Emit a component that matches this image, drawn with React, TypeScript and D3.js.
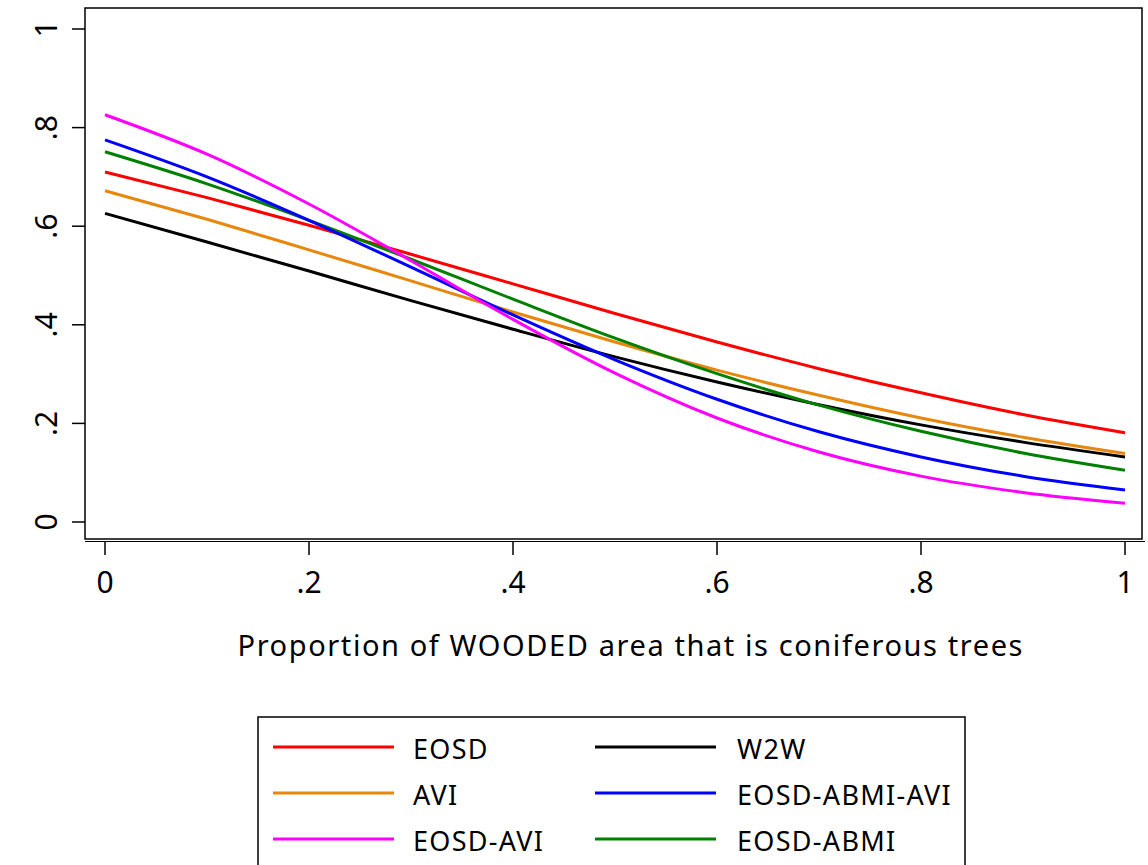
import React from "react";
import * as d3 from "d3";

const xGrid = [0, 0.1, 0.2, 0.3, 0.4, 0.5, 0.6, 0.7, 0.8, 0.9, 1.0];
const eosd = [0.71, 0.658, 0.602, 0.543, 0.483, 0.423, 0.365, 0.311, 0.262, 0.218, 0.181];
const avi = [0.672, 0.614, 0.552, 0.489, 0.426, 0.365, 0.308, 0.257, 0.211, 0.172, 0.139];
const eosdAvi = [0.826, 0.746, 0.645, 0.53, 0.411, 0.302, 0.211, 0.142, 0.093, 0.06, 0.038];
const w2w = [0.626, 0.568, 0.509, 0.449, 0.391, 0.335, 0.284, 0.238, 0.197, 0.162, 0.132];
const eosdAbmiAvi = [0.775, 0.7, 0.612, 0.517, 0.42, 0.329, 0.249, 0.183, 0.132, 0.093, 0.065];
const eosdAbmi = [0.751, 0.686, 0.612, 0.533, 0.452, 0.373, 0.301, 0.237, 0.184, 0.14, 0.105];

const seriesNames = ["EOSD", "AVI", "EOSD-AVI", "W2W", "EOSD-ABMI-AVI", "EOSD-ABMI"];
const seriesValues = [eosd, avi, eosdAvi, w2w, eosdAbmiAvi, eosdAbmi];
const seriesColors = ["#ff0000", "#e8870e", "#ff00ff", "#000000", "#0000ff", "#008000"];
// draw order (back to front)
const drawOrder = [3, 1, 0, 5, 4, 2];

const xTicks = [0, 0.2, 0.4, 0.6, 0.8, 1];
const yTicks = [0, 0.2, 0.4, 0.6, 0.8, 1];
const tickLabel = (v: number) => (v === 0 ? "0" : v === 1 ? "1" : "." + Math.round(v * 10));
const xTitle = "Proportion of WOODED area that is coniferous trees";

const W = 1148;
const H = 865;
const frame = { left: 85, right: 1142, top: 8, bottom: 539 };

export default function App() {
  const x = d3.scaleLinear().domain([0, 1]).range([105, 1125]);
  const y = d3.scaleLinear().domain([0, 1]).range([522, 29]);
  const line = d3
    .line<number>()
    .x((_, i) => x(xGrid[i]))
    .y((d) => y(d))
    .curve(d3.curveMonotoneX);

  const font = "'Noto Sans', 'Open Sans', sans-serif";
  const legendRows = [0, 1, 2];
  const legendCols = [
    { lx1: 273, lx2: 394, tx: 413 },
    { lx1: 595, lx2: 716, tx: 737 },
  ];

  return (
    <svg
      width={W}
      height={H}
      style={{ position: "absolute", left: 0, top: 0, background: "#fff" }}
      fontFamily={font}
    >
      <rect x={0} y={0} width={W} height={H} fill="#fff" />
      {/* curves */}
      {drawOrder.map((si) => (
        <path
          key={seriesNames[si]}
          d={line(seriesValues[si]) || ""}
          fill="none"
          stroke={seriesColors[si]}
          strokeWidth={3}
        />
      ))}
      {/* frame */}
      <rect
        x={frame.left}
        y={frame.top}
        width={frame.right - frame.left}
        height={frame.bottom - frame.top}
        fill="none"
        stroke="#000"
        strokeWidth={1.5}
      />
      <line x1={frame.left} x2={1145} y1={541.5} y2={541.5} stroke="#000" strokeWidth={1.2} />
      {/* y ticks */}
      {yTicks.map((t) => (
        <g key={"y" + t}>
          <line x1={72} x2={frame.left} y1={y(t)} y2={y(t)} stroke="#000" strokeWidth={1.5} />
          <text
            transform={`translate(57,${y(t)}) rotate(-90)`}
            textAnchor="middle"
            fontSize={30}
            fill="#000"
          >
            {tickLabel(t)}
          </text>
        </g>
      ))}
      {/* x ticks */}
      {xTicks.map((t) => (
        <g key={"x" + t}>
          <line x1={x(t)} x2={x(t)} y1={542} y2={555} stroke="#000" strokeWidth={1.5} />
          <text x={x(t)} y={593} textAnchor="middle" fontSize={30} fill="#000">
            {tickLabel(t)}
          </text>
        </g>
      ))}
      {/* x title */}
      <text
        x={630}
        y={656}
        textAnchor="middle"
        fontSize={29}
        fill="#000"
        textLength={785}
        lengthAdjust="spacing"
      >
        {xTitle}
      </text>
      {/* legend */}
      <rect x={258} y={717} width={707} height={170} fill="none" stroke="#000" strokeWidth={1.5} />
      {seriesNames.map((name, i) => {
        const col = legendCols[Math.floor(i / 3)];
        const row = legendRows[i % 3];
        const ly = 747 + row * 46;
        return (
          <g key={"lg" + name}>
            <line x1={col.lx1} x2={col.lx2} y1={ly} y2={ly} stroke={seriesColors[i]} strokeWidth={3} />
            <text x={col.tx} y={ly + 12} fontSize={27} fill="#000" letterSpacing={1.3}>
              {name}
            </text>
          </g>
        );
      })}
    </svg>
  );
}
